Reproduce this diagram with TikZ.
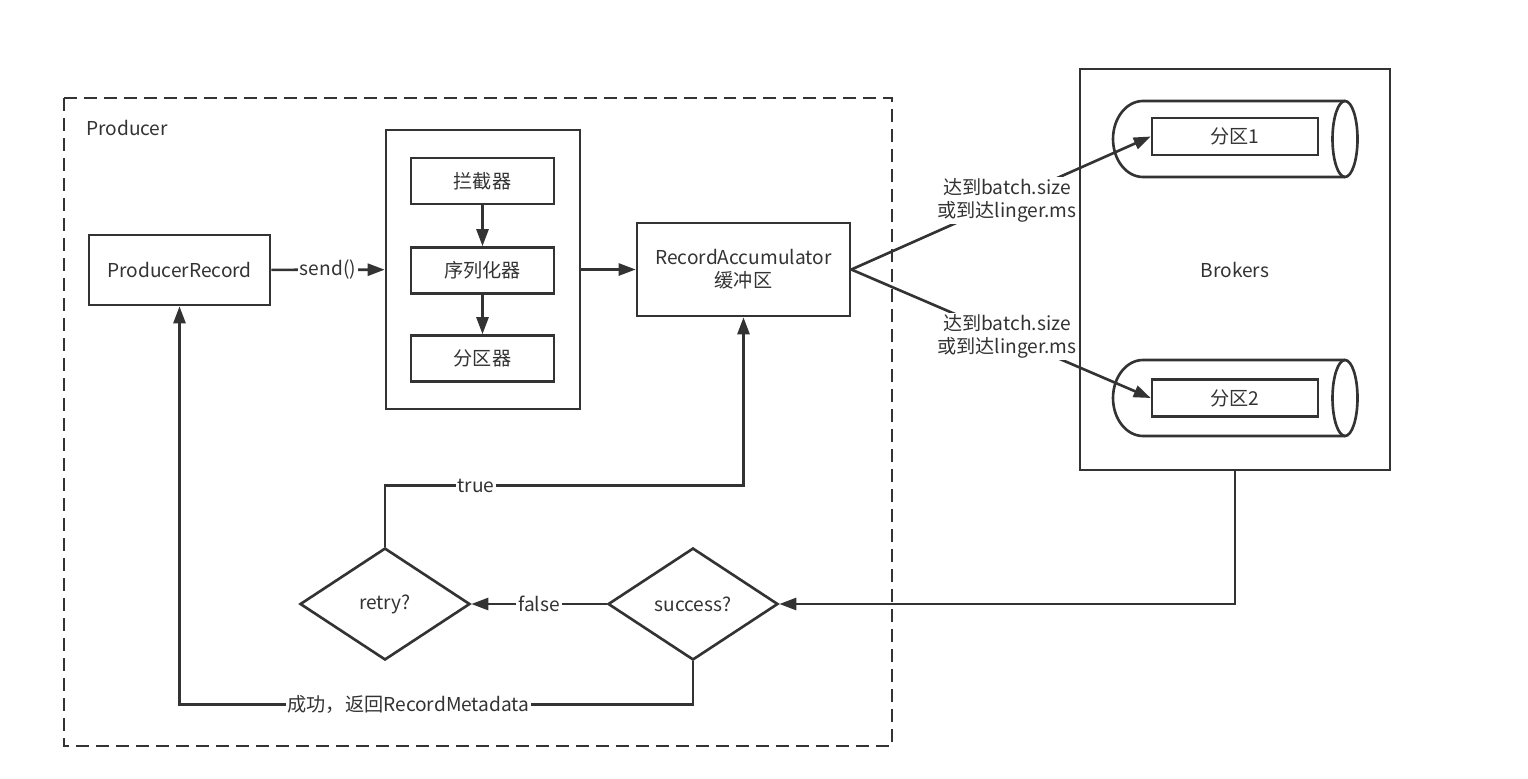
\documentclass[tikz,border=0pt]{standalone}
\usepackage{fontspec}
\setmainfont{Noto Sans CJK SC}
\usepackage{xcolor}
\usepackage{tikz}
\usetikzlibrary{arrows.meta,calc,shapes.geometric}
\definecolor{flowInk}{HTML}{333333}

\begin{document}
\begin{tikzpicture}[x=0.02cm,y=-0.02cm,
  font=\fontsize{10.9}{13}\selectfont,
  every node/.style={text=flowInk},
  box/.style={draw=flowInk,line width=1.5pt,fill=white,align=center,inner sep=2pt,
    minimum width=#1},
  box/.default=2.86cm,
  decision/.style={draw=flowInk,line width=1.5pt,diamond,aspect=1.52,inner sep=0pt,
    minimum width=3.4cm,minimum height=2.24cm},
  flow/.style={draw=flowInk,line width=1.5pt,-{Triangle[length=0.34cm,width=0.24cm]}},
  wire/.style={draw=flowInk,line width=1.5pt},
  lbl/.style={fill=white,inner sep=1pt,align=center}
]
  \useasboundingbox (0,0) rectangle (1528,778);

  % producer side
  \draw[draw=flowInk,line width=1.5pt,dash pattern=on 0.26cm off 0.14cm] (64,98) rectangle (892,746);
  \node[anchor=west] (prodname) at (80,128) {Producer};

  \node[box=3.62cm,minimum height=1.4cm] (record) at (179.5,270) {ProducerRecord};

  \node[box=3.88cm,minimum height=5.58cm] (chain) at (483,269.5) {};
  \node[box,minimum height=0.92cm] (intercept) at (482.5,181) {拦截器};
  \node[box,minimum height=0.92cm] (serial) at (482.5,270.5) {序列化器};
  \node[box,minimum height=0.92cm] (splitter) at (482.5,358.5) {分区器};

  \node[box=4.26cm,minimum height=1.86cm] (acc) at (743.5,269.5) {RecordAccumulator\\缓冲区};

  \node[decision] (retry) at (385,604) {retry?};
  \node[decision] (success) at (693,604) {success?};

  % brokers side
  \node[box=6.2cm,minimum height=8.02cm] (brokers) at (1235,269.5) {Brokers};

  \draw[wire] (1345,101) -- (1143,101) arc[start angle=90,end angle=270,x radius=0.6cm,y radius=0.76cm] -- (1345,177);
  \draw[wire] (1345,139) ellipse[x radius=0.25cm,y radius=0.76cm];
  \draw[wire] (1345,360) -- (1143,360) arc[start angle=90,end angle=270,x radius=0.6cm,y radius=0.76cm] -- (1345,436);
  \draw[wire] (1345,398) ellipse[x radius=0.25cm,y radius=0.76cm];

  \node[box=3.32cm,minimum height=0.74cm] (part1) at (1235,136.5) {分区1};
  \node[box=3.32cm,minimum height=0.74cm] (part2) at (1235,398) {分区2};

  % connectors
  \draw[flow] (record) -- node[lbl] {send()} (chain);
  \draw[flow] (intercept) -- (serial);
  \draw[flow] (serial) -- (splitter);
  \draw[flow] (chain) -- (acc);

  \draw[flow] (acc.east) -- node[lbl,pos=0.52] {达到batch.size\\或到达linger.ms} (part1.west);
  \draw[flow] (acc.east) -- node[lbl,pos=0.52] {达到batch.size\\或到达linger.ms} (part2.west);

  \draw[flow] (brokers.south) |- (success.east);
  \draw[flow] (success) -- node[lbl] {false} (retry);
  \draw[flow] (retry.north) -- ++(0,-61) -| node[lbl,pos=0.127] {true} (acc.south);
  \draw[flow] (success.south) -- ++(0,43) -| node[lbl,pos=0.277] {成功，返回RecordMetadata} (record.south);
\end{tikzpicture}
\end{document}
